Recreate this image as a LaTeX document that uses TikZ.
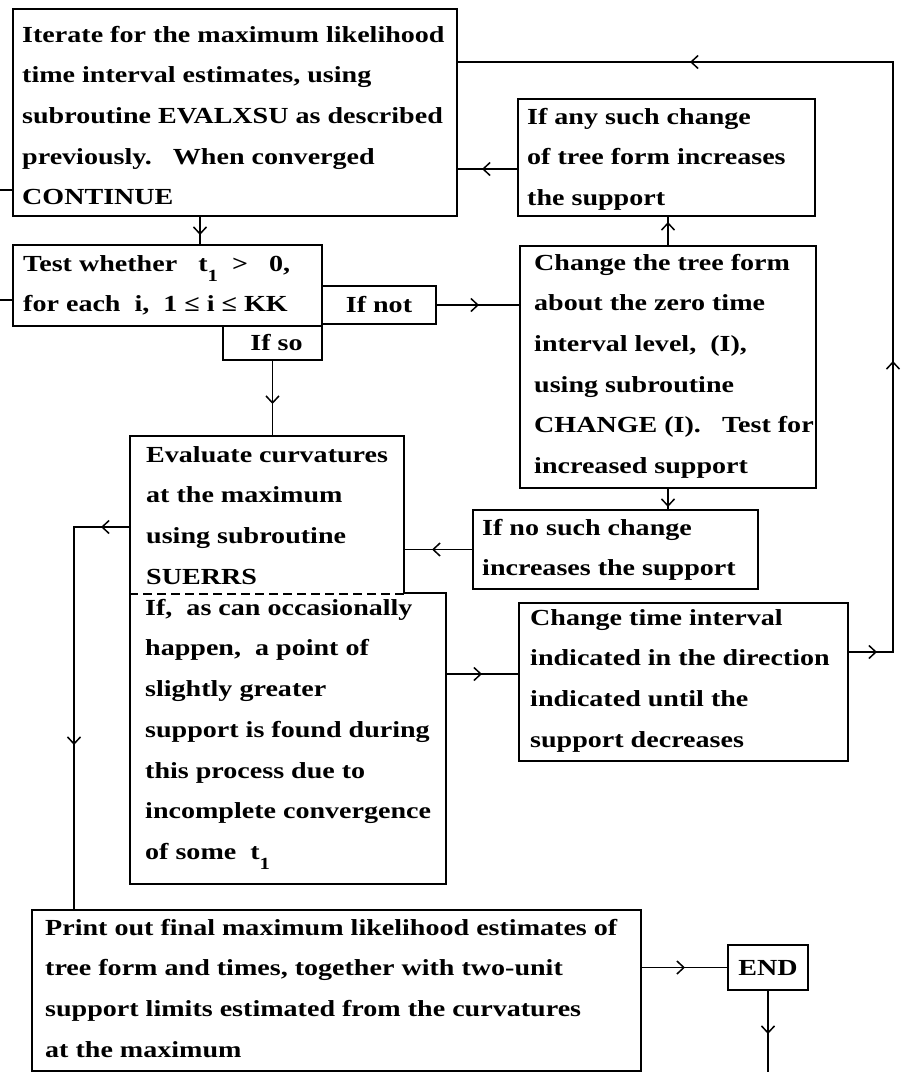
\documentclass[tikz,border=0pt]{standalone}
\usepackage{fontspec}
\setmainfont[FakeStretch=1.22]{Liberation Serif}
\usetikzlibrary{arrows.meta,decorations.markings,calc}
\newcommand{\sbone}{\raisebox{-10pt}{\fontsize{17}{17}\selectfont 1}}
\tikzset{
  boxfont/.style={font=\fontsize{23}{40.7}\selectfont\bfseries},
  box/.style={draw, line width=2pt, inner sep=0pt, anchor=north west, boxfont},
  txt/.style={anchor=north west, inner sep=0pt, align=left, boxfont},
  conn/.style={line width=1.5pt},
  arr/.style={postaction={decorate,decoration={markings,
      mark=at position #1 with {\arrow{Straight Barb[length=7pt,width=13pt]}}}}},
}
\begin{document}
\begin{tikzpicture}[x=1pt,y=-1pt]
\useasboundingbox (0,0) rectangle (901,1072);

% boxes
\node[box, minimum width=444pt, minimum height=207pt] (iter) at (12,8) {};
\node[box, minimum width=309pt, minimum height=81pt] (test) at (12,244) {};
\node[box, minimum width=114pt, minimum height=38pt] (ifnot) at (321,285) {If not};
\node[box, minimum width=99pt, minimum height=34pt] (ifso) at (222,325) {\hspace{8pt}If so};
\node[box, minimum width=297pt, minimum height=117pt] (ifany) at (517,98) {};
\node[box, minimum width=296pt, minimum height=242pt] (chg) at (519,245) {};
\node[box, minimum width=285pt, minimum height=79pt] (ifno) at (472,509) {};
\node[box, minimum width=316pt, minimum height=291pt] (ifas) at (129,592) {};
\node[box, minimum width=274pt, minimum height=157pt] (eval) at (129,435) {};
\node[box, minimum width=329pt, minimum height=158pt] (chgt) at (518,602) {};
\node[box, minimum width=609pt, minimum height=161pt] (print) at (31,909) {};
\node[box, minimum width=80pt, minimum height=45pt] (end) at (727,944) {END};

% dashed shared edge between eval and ifas
\draw[white, line width=3.8pt, shorten <=1.6pt, shorten >=1.6pt] (eval.south west) -- (eval.south east);
\draw[line width=2pt, dash pattern=on 9pt off 5pt] (eval.south west) -- (eval.south east);

% texts
\node[txt] (iter-t) at (22,13.5) {\strut Iterate for the maximum likelihood\\
time interval estimates, using\\
subroutine EVALXSU as described\\
previously.\ \ \ When converged\\
CONTINUE};
\node[txt] (test-t) at (23,242.5) {\strut Test whether\ \ \ t\sbone\ \ >\ \ \ 0,\\
for each\ \ i,\ \ 1 ≤ i ≤ KK};
\node[txt] (ifany-t) at (527,95.5) {\strut If any such change\\
of tree form increases\\
the support};
\node[txt] (chg-t) at (534,241.5) {\strut Change the tree form\\
about the zero time\\
interval level,\ \ (I),\\
using subroutine\\
CHANGE (I).\ \ \ Test for\\
increased support};
\node[txt] (ifno-t) at (482,506.5) {\strut If no such change\\
increases the support};
\node[txt] (eval-t) at (146,433.5) {\strut Evaluate curvatures\\
at the maximum\\
using subroutine\\
SUERRS};
\node[txt] (ifas-t) at (145,586.5) {\strut If,\ \ as can occasionally\\
happen,\ \ a point of\\
slightly greater\\
support is found during\\
this process due to\\
incomplete convergence\\
of some\ \ t\sbone};
\node[txt] (chgt-t) at (530,596.5) {\strut Change time interval\\
indicated in the direction\\
indicated until the\\
support decreases};
\node[txt] (print-t) at (45,906.5) {\strut Print out final maximum likelihood estimates of\\
tree form and times, together with two-unit\\
support limits estimated from the curvatures\\
at the maximum};

% connectors
\draw[conn, arr=18pt] ($(iter.south west)+(188,0)$) -- ($(test.north west)+(188,0)$);
\draw[conn, arr=42pt] (ifnot.east) -- (ifnot.east -| chg.west);
\draw[conn, arr=43pt] (ifso.south) -- (ifso.south |- eval.north);
\draw[conn, arr=23pt] (chg.north) -- (chg.north |- ifany.south);
\coordinate (a5) at ($(ifany.west)+(0,11.5)$);
\draw[conn, arr=35pt] (a5) -- (a5 -| iter.east);
\draw[conn, arr=18pt] (chg.south) -- (chg.south |- ifno.north);
\draw[conn, arr=40pt] (ifno.west) -- (ifno.west -| eval.east);
\coordinate (e8) at ($(eval.west)+(0,12.5)$);
\coordinate (l8) at ($(print.north west)+(43,0)$);
\draw[conn, arr=28pt, arr=273pt] (e8) -- (e8 -| l8) -- (l8);
\coordinate (c9) at ($(chgt.west)+(0,-8)$);
\draw[conn, arr=35pt] (c9 -| ifas.east) -- (c9);
\coordinate (c10) at ($(chgt.east)+(0,-30)$);
\coordinate (r10) at ($(iter.north east)+(435,54)$);
\draw[conn, arr=28pt, arr=335pt, arr=837pt] (c10) -- (c10 -| r10) -- (r10) -- (r10 -| iter.east);
\draw[conn, arr=43pt] (end.west -| print.east) -- (end.west);
\coordinate (endout) at ($(end.south)+(0,83)$);
\draw[conn, arr=43pt] (end.south) -- (endout);
\coordinate (s1) at (0,190);
\draw[conn] (s1) -- (s1 -| iter.west);
\coordinate (s2) at (0,300);
\draw[conn] (s2) -- (s2 -| test.west);
\end{tikzpicture}
\end{document}
